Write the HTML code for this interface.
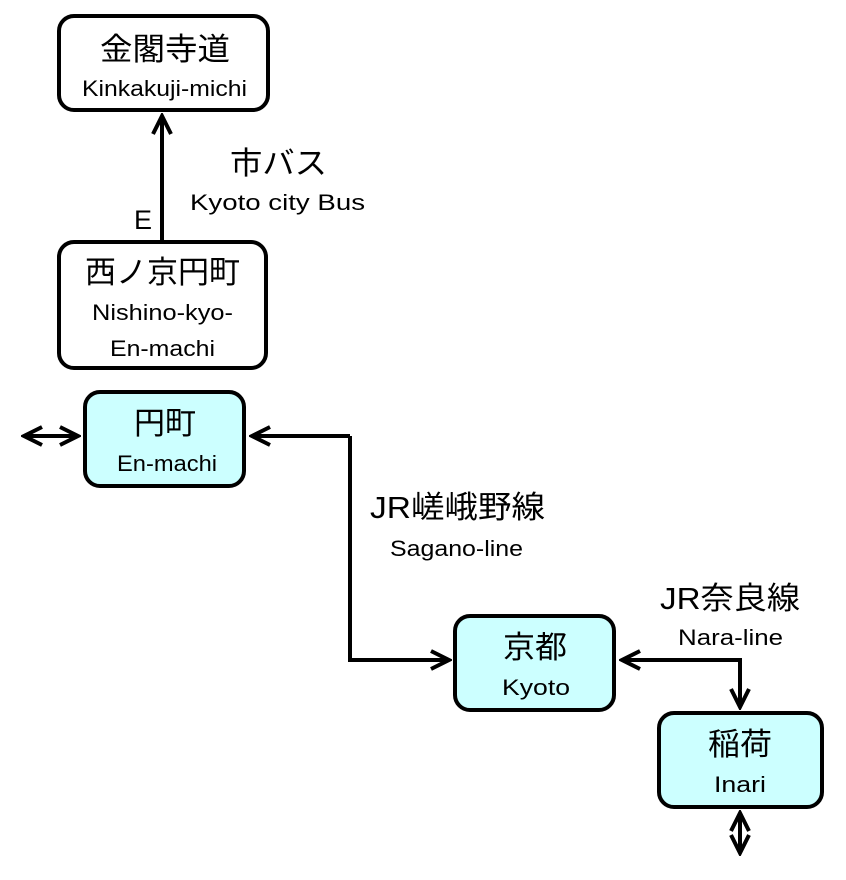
<!DOCTYPE html>
<html><head><meta charset="utf-8"><style>
html,body{margin:0;padding:0;background:#fff}
svg text{font-family:"Liberation Sans","Noto Sans CJK JP",sans-serif;fill:#000}
svg text.j{font-size:31px;font-family:"Liberation Sans","Noto Sans CJK JP",sans-serif}
svg text.e{font-family:"Liberation Sans","Noto Sans CJK JP",sans-serif;font-size:22px}
</style></head><body>
<svg width="846" height="875" viewBox="0 0 846 875" xmlns="http://www.w3.org/2000/svg">
<defs>
<marker id="b" viewBox="0 0 24 24" refX="21" refY="12" markerWidth="24" markerHeight="24" markerUnits="userSpaceOnUse" orient="auto-start-reverse">
<path d="M3,3 L21,12 L3,21" fill="none" stroke="#000" stroke-width="4"/>
</marker>
</defs>
<g stroke="#000" stroke-width="4" fill="none">
<rect x="59" y="16" width="209" height="94" rx="15" fill="#fff"/>
<rect x="59" y="242" width="207" height="126" rx="15" fill="#fff"/>
<rect x="85" y="392" width="159" height="94" rx="15" fill="#ccffff"/>
<rect x="455" y="616" width="159" height="94" rx="15" fill="#ccffff"/>
<rect x="659" y="713" width="163" height="94" rx="15" fill="#ccffff"/>
<line x1="162" y1="240" x2="162" y2="116" marker-end="url(#b)"/>
<polyline points="350,436 350,660 449,660" marker-end="url(#b)"/>
<line x1="350" y1="436" x2="252" y2="436" marker-end="url(#b)"/>
<line x1="740" y1="660" x2="622" y2="660" marker-end="url(#b)"/>
<line x1="740" y1="658" x2="740" y2="707" marker-end="url(#b)"/>
<line x1="24" y1="436" x2="78" y2="436" marker-start="url(#b)" marker-end="url(#b)"/>
<line x1="740" y1="813" x2="740" y2="853" marker-start="url(#b)" marker-end="url(#b)"/>
</g>
<g text-anchor="start" lengthAdjust="spacingAndGlyphs">
<text class="j" x="100" y="60" textLength="130" lengthAdjust="spacingAndGlyphs">金閣寺道</text>
<text class="e" x="82" y="96" textLength="165" lengthAdjust="spacingAndGlyphs">Kinkakuji-michi</text>
<text class="j" x="85" y="283" textLength="155" lengthAdjust="spacingAndGlyphs">西ノ京円町</text>
<text class="e" x="92" y="320" textLength="141" lengthAdjust="spacingAndGlyphs">Nishino-kyo-</text>
<text class="e" x="110" y="356" textLength="105" lengthAdjust="spacingAndGlyphs">En-machi</text>
<text class="j" x="134" y="434" textLength="62" lengthAdjust="spacingAndGlyphs">円町</text>
<text class="e" x="117" y="471" textLength="100" lengthAdjust="spacingAndGlyphs">En-machi</text>
<text class="j" x="503" y="658" textLength="64" lengthAdjust="spacingAndGlyphs">京都</text>
<text class="e" x="502" y="695" textLength="68" lengthAdjust="spacingAndGlyphs">Kyoto</text>
<text class="j" x="708" y="755" textLength="64" lengthAdjust="spacingAndGlyphs">稲荷</text>
<text class="e" x="714" y="792" textLength="52" lengthAdjust="spacingAndGlyphs">Inari</text>
<text class="j" x="230" y="174" textLength="97" lengthAdjust="spacingAndGlyphs">市バス</text>
<text class="e" x="190" y="210" textLength="175" lengthAdjust="spacingAndGlyphs">Kyoto city Bus</text>
<text class="j" x="370" y="518" textLength="175" lengthAdjust="spacingAndGlyphs">JR嵯峨野線</text>
<text class="e" x="390" y="556" textLength="133" lengthAdjust="spacingAndGlyphs">Sagano-line</text>
<text class="j" x="660" y="609" textLength="140" lengthAdjust="spacingAndGlyphs">JR奈良線</text>
<text class="e" x="678" y="645" textLength="105" lengthAdjust="spacingAndGlyphs">Nara-line</text>
<text x="134" y="229" style="font-size:27px">E</text>
</g>
</svg>
</body></html>
